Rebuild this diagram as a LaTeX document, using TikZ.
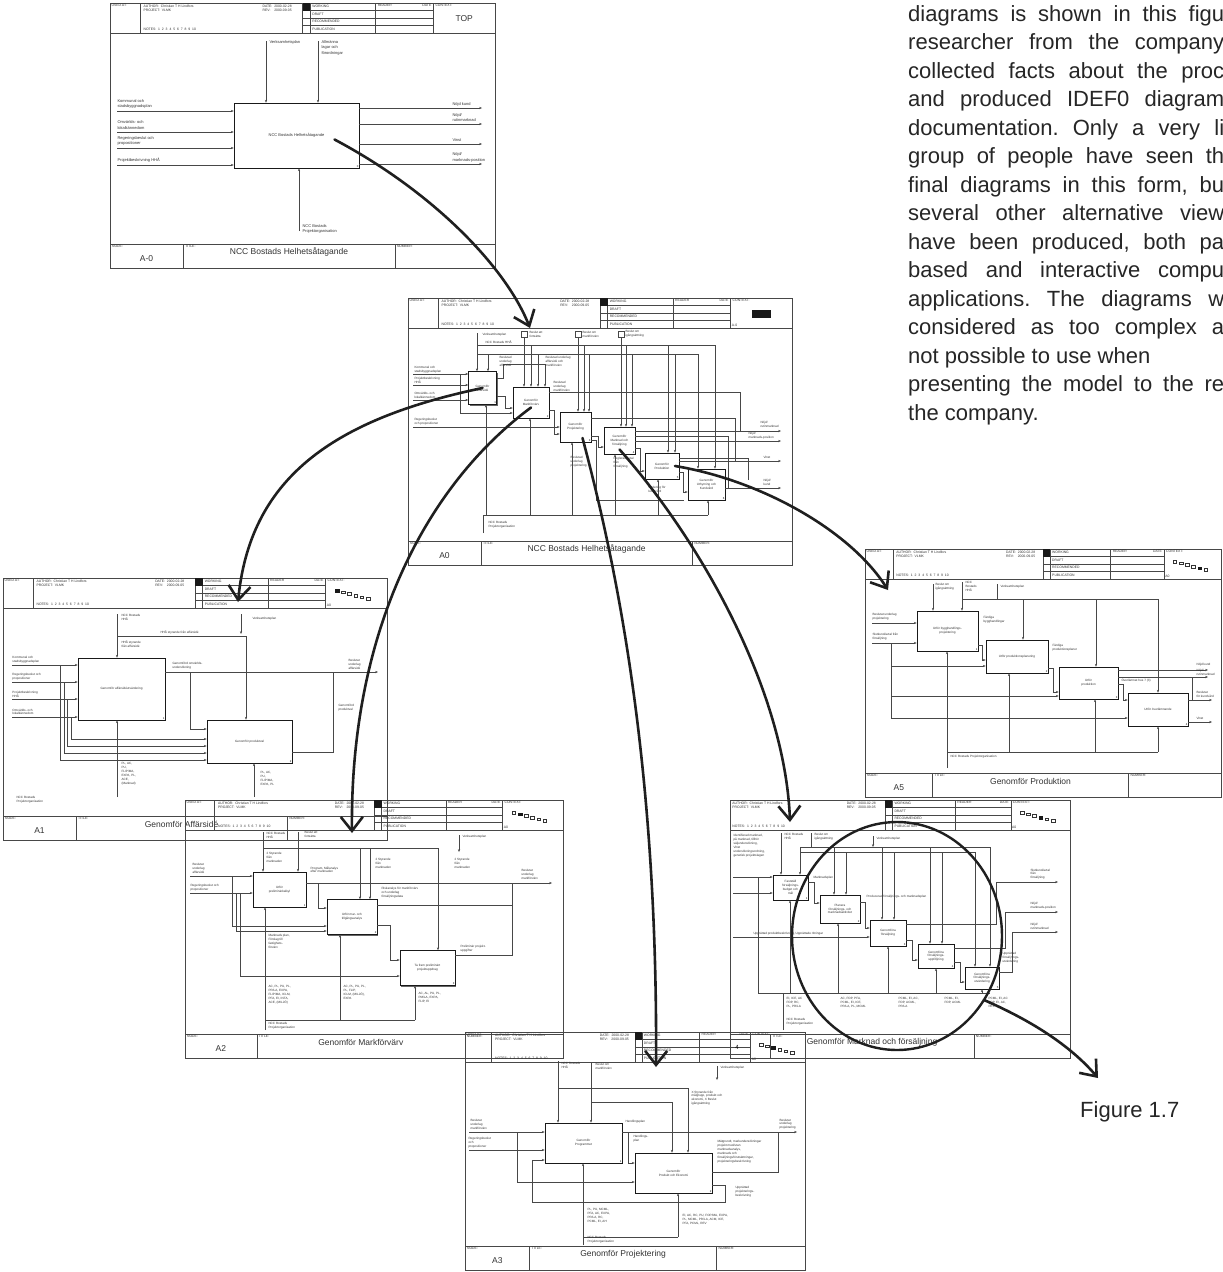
\documentclass[tikz,border=0pt]{standalone}
\usepackage{fontspec}
\setmainfont{Liberation Sans}
\usetikzlibrary{arrows.meta,shadows,calc}
\frenchspacing

\tikzset{
  frm/.style={draw=black!72, line width=0.45pt},
  ln/.style={draw=black!72, line width=0.4pt},
  arr/.style={ln, -{Stealth[length=2.8pt,width=2.2pt]}},
  hd/.style={font=\fontsize{3.4}{4}\selectfont, inner sep=0.4pt, align=left, text=black!80},
  lab/.style={font=\fontsize{3.1}{3.9}\selectfont, inner sep=0.3pt, align=left, text=black!80},
  labA/.style={font=\fontsize{4}{5.5}\selectfont, inner sep=0.3pt, align=left, text=black!80},
  ttl/.style={font=\fontsize{8.5}{9}\selectfont, inner sep=0, text=black!80},
  abox/.style={draw=black!90, line width=0.6pt, fill=white, align=center,
     font=\fontsize{3.1}{3.8}\selectfont, inner sep=0.5pt, text=black!80,
     drop shadow={shadow xshift=1.3pt, shadow yshift=-1.3pt, fill=black!60, opacity=1}},
  aboxA/.style={abox, font=\fontsize{4}{5}\selectfont},
  boxno/.style={font=\fontsize{2.8}{3}\selectfont, inner sep=0.7pt},
  big/.style={line width=2.6pt, draw=black!88, line cap=round,
     -{Straight Barb[length=14pt,width=22pt]}},
  body/.style={font=\fontsize{22}{28.5}\selectfont, inner sep=0, anchor=base west, text=black!85},
}

% IDEF0 form: #1 prefix, #2 x, #3 y, #4 width, #5 height, #6 node, #7 title, #8 context type
\newcommand{\idefsheet}[8]{%
\begin{scope}[shift={(#2,#3)}]
  \draw[frm] (0,0) rectangle (#4,#5);
  \draw[frm] (0,30) -- (#4,30);
  \foreach \fr in {0.078,0.5,0.52,0.69,0.84}{\draw[frm] ({\fr*#4},0) -- ({\fr*#4},30);}
  \foreach \rr in {7.5,15,22.5}{\draw[frm] ({0.5*#4},\rr) -- ({0.84*#4},\rr);}
  \fill[black!90] ({0.5*#4},0) rectangle ({0.52*#4},7.5);
  \node[hd, anchor=north west] (#1-usedat) at (1,1) {USED AT:};
  \node[hd, anchor=north west] (#1-author) at ({0.078*#4+3},1.5) {AUTHOR:\ \ Christian T H Lindfors\\PROJECT:\ \ VLMK};
  \node[hd, anchor=south west] (#1-notes) at ({0.078*#4+3},28.5) {NOTES:\ \ 1\ \ 2\ \ 3\ \ 4\ \ 5\ \ 6\ \ 7\ \ 8\ \ 9\ \ 10};
  \node[hd, anchor=north west] (#1-date) at ({0.395*#4},1.5) {DATE:\ \ 2000-02-28\\REV:\ \ \ \ 2000-09-05};
  \node[hd, anchor=west] (#1-wk) at ({0.52*#4+1.5},3.75) {WORKING};
  \node[hd, anchor=west] (#1-dr) at ({0.52*#4+1.5},11.25) {DRAFT};
  \node[hd, anchor=west] (#1-rc) at ({0.52*#4+1.5},18.75) {RECOMMENDED};
  \node[hd, anchor=west] (#1-pb) at ({0.52*#4+1.5},26.25) {PUBLICATION};
  \node[hd, anchor=north west] (#1-rd) at ({0.69*#4+1.5},1) {READER};
  \node[hd, anchor=north east] (#1-rdt) at ({0.84*#4-1.5},1) {DATE};
  \node[hd, anchor=north west] (#1-ctx) at ({0.84*#4+1.5},1) {CONTEXT:};
  \draw[frm] (0,{#5-24}) -- (#4,{#5-24});
  \draw[frm] ({0.19*#4},{#5-24}) -- ({0.19*#4},#5);
  \draw[frm] ({0.74*#4},{#5-24}) -- ({0.74*#4},#5);
  \node[hd, anchor=north west] (#1-ndl) at (1.5,{#5-23.5}) {NODE:};
  \node[hd, anchor=north west] (#1-tll) at ({0.19*#4+1.5},{#5-23.5}) {TITLE:};
  \node[hd, anchor=north west] (#1-nrl) at ({0.74*#4+1.5},{#5-23.5}) {NUMBER:};
  \node[ttl] (#1-node) at ({0.095*#4},{#5-9}) {#6};
  \node[ttl] (#1-title) at ({0.465*#4},{#5-16}) {#7};
  \ifnum#8=0 \node[ttl] (#1-top) at ({0.92*#4},16) {TOP};\fi
  \ifnum#8=1 \fill[black!90] ({0.895*#4},12) rectangle ({0.945*#4},20);
     \node[hd, anchor=south west] (#1-ctxa) at ({0.842*#4},29) {A-0};\fi
  \ifnum#8>1
    \foreach \sq in {1,...,6}{%
      \ifnum\sq=\numexpr#8-1\relax
        \filldraw[black!90, line width=0.3pt] ({0.865*#4+(\sq-1)*6.2},{11+(\sq-1)*1.7}) rectangle +(3.6,2.8);
      \else
        \draw[black!80, line width=0.3pt] ({0.865*#4+(\sq-1)*6.2},{11+(\sq-1)*1.7}) rectangle +(3.6,2.8);
      \fi}
    \node[hd, anchor=south west] (#1-ctxa) at ({0.842*#4},29) {A0};
  \fi
\end{scope}}

\begin{document}
\begin{tikzpicture}[x=1pt,y=-1pt]
\useasboundingbox (0,0) rectangle (1223,1272);
\fill[white] (0,0) rectangle (1223,1272);
\clip (0,0) rectangle (1223,1272);

% ================= A-0 =================
\idefsheet{s00}{110}{3}{385}{265}{A-0}{NCC Bostads Helhetsåtagande}{0}
\node[aboxA, minimum width=125, minimum height=65] (a00-b) at (296.5,135.5) {NCC Bostads Helhetsåtagande};
\node[boxno, anchor=south east] (a00-bn) at (a00-b.south east) {0};
\coordinate (a00-c1) at (266,41);
\coordinate (a00-c2) at (318,41);
\draw[arr] (a00-c1) -- (a00-c1 |- a00-b.north);
\draw[arr] (a00-c2) -- (a00-c2 |- a00-b.north);
\node[labA, anchor=north west] (a00-c1l) at (269,40) {Verksamhetsplan};
\node[labA, anchor=north west] (a00-c2l) at (321,40) {Allmänna\\lagar och\\förordningar};
\foreach \yy/\nm/\tx in {111/i1/{Kommunal och\\stadsbyggnadsplan},132/i2/{Omvärlds- och\\lokalkännedom},148/i3/{Regeringsbeslut och\\propositioner},165/i4/{Projektbeskrivning HHÅ}}{
  \coordinate (a00-\nm) at (117,\yy);
  \draw[arr] (a00-\nm) -- (a00-\nm -| a00-b.west);
  \node[labA, anchor=south west] (a00-\nm-l) at (117,{\yy-2}) {\tx};
}
\foreach \yy/\nm/\tx in {108/o1/{Nöjd kund},124/o2/{Nöjd/\\rutinmarknad},144/o3/{Vinst},164/o4/{Nöjd/\\marknads-position}}{
  \coordinate (a00-\nm) at (482,\yy);
  \draw[arr] (a00-\nm -| a00-b.east) -- (a00-\nm);
  \node[labA, anchor=south west] (a00-\nm-l) at (452,{\yy-1.5}) {\tx};
}
\coordinate (a00-m) at (299,231);
\draw[arr] (a00-m) -- (a00-m |- a00-b.south);
\node[labA, anchor=north west] (a00-ml) at (302,224) {NCC Bostads\\Projektorganisation};

% ================= A0 =================
\idefsheet{s0}{408}{298}{384}{267}{A0}{NCC Bostads Helhetsåtagande}{1}
\node[abox, minimum width=28, minimum height=33] (a0-b1) at (482.5,388) {Genomför\\affärsidé};
\node[abox, minimum width=36, minimum height=31] (a0-b2) at (531,402.5) {Genomför\\Markförvärv};
\node[abox, minimum width=31, minimum height=30] (a0-b3) at (575.5,427) {Genomför\\Projektering};
\node[abox, minimum width=31, minimum height=27] (a0-b4) at (619.5,440.5) {Genomför\\Marknad och\\försäljning};
\node[abox, minimum width=34, minimum height=26] (a0-b5) at (662,466) {Genomför\\Produktion};
\node[abox, minimum width=37, minimum height=31] (a0-b6) at (706.5,484.5) {Genomför\\Uthyrning och\\Kundvård};
\foreach \bb/\k in {b1/1,b2/2,b3/3,b4/4,b5/5,b6/6}
  \node[boxno, anchor=south east] (a0-\bb-n) at (a0-\bb.south east) {\k};
\node[lab, anchor=west] (a0-vp) at (482,335) {Verksamhetsplan};
\node[lab, anchor=south west] (a0-hha) at (485,344.5) {NCC Bostads HHÅ};
\node[lab, anchor=west] (a0-bf) at (529,334) {Beslut att\\fortsätta};
\node[lab, anchor=west] (a0-bm) at (582,334) {Beslut om\\markförvärv};
\node[lab, anchor=west] (a0-bi) at (625,334) {Beslut om\\igångsättning};
\draw[ln] (521.5,331) rectangle (527,337.5);
\draw[ln] (575.5,331) rectangle (581,337.5);
\draw[ln] (618.5,331) rectangle (624,337.5);
\coordinate (a0-t0) at (477,333);
\draw[arr] (a0-t0) -- (a0-t0 |- a0-b1.north);
\draw[ln] (477,345) -- (715,345);
\draw[ln] (477,354) -- (698,354);
\foreach \xx/\bb in {531/b2,584/b3,626/b4,668/b5,715/b6}
  \draw[arr] (\xx,345) -- (\xx,345 |- a0-\bb.north);
\foreach \xx/\bb in {488/b1,538/b2,589/b3,632/b4,675/b5,698/b6}
  \draw[arr] (\xx,354) -- (\xx,354 |- a0-\bb.north);
\foreach \xx/\bb in {524/b2,578/b3,621/b4}
  \draw[arr] (\xx,338) -- (\xx,338 |- a0-\bb.north);
\foreach \yy/\nm/\tx in {374/i1/{Kommunal och\\stadsbyggnadsplan},385/i2/{Projektbeskrivning\\HHÅ},400/i3/{Omvärlds- och\\lokalkännedom}}{
  \coordinate (a0-\nm) at (413,\yy);
  \draw[arr] (a0-\nm) -- (a0-\nm -| a0-b1.west);
  \node[lab, anchor=south west] (a0-\nm-l) at (414,{\yy-0.8}) {\tx};
}
\coordinate (a0-i4) at (413,427);
\draw[arr] (a0-i4) -- (a0-i4 -| a0-b3.west);
\node[lab, anchor=south west] (a0-i4-l) at (414,426) {Regeringsbeslut\\och propositioner};
\draw[arr] (460,374) |- (a0-b2.west |- 460,413);
\draw[arr] (a0-b1.east |- 0,378) -- (503,378) |- (545,364) -- (545,364 |- a0-b2.north);
\node[lab, anchor=north west] (a0-bua) at (499,356) {Beslutad\\underlag\\affärsidé};
\node[lab, anchor=north west] (a0-bum) at (545,356) {Beslutad underlag\\affärsidé och\\markförvärv};
\node[lab, anchor=north west] (a0-bum2) at (553,381) {Beslutad\\underlag\\markförvärv};
\draw[arr] (a0-b1.east |- 0,396) -| (505,408) -- (a0-b2.west |- 0,408);
\draw[arr] (a0-b2.east |- 0,410) -| (554,434) -- (a0-b3.west |- 0,434);
\draw[arr] (a0-b3.east |- 0,436) -| (598,447) -- (a0-b4.west |- 0,447);
\draw[arr] (a0-b4.east |- 0,448) -| (640,471) -- (a0-b5.west |- 0,471);
\draw[arr] (a0-b5.east |- 0,472) -| (683,492) -- (a0-b6.west |- 0,492);
\draw[ln] (a0-b2.east |- 0,392) -- (740,392) -- (740,431);
\draw[ln] (a0-b3.east |- 0,418) -- (735,418) -- (735,461);
\draw[ln] (a0-b3.east |- 0,440) -- (596,440) -- (596,500) -- (684,500);
\draw[ln] (a0-b4.east |- 0,436) -- (728,436) -- (728,488);
\draw[ln] (a0-b5.east |- 0,458) -- (748,458) -- (748,480);
\foreach \yy/\bb/\nm in {431/b4/o1,441/b4/o2,461/b5/o3,488/b6/o4}{
  \coordinate (a0-\nm) at (781,\yy);
  \draw[arr] (a0-\bb.east |- a0-\nm) -- (a0-\nm);
}
\node[lab, anchor=south west] (a0-o1l) at (760,428) {Nöjd/\\rutinmarknad};
\node[lab, anchor=south west] (a0-o2l) at (748,439.5) {Nöjd/\\marknads-position};
\node[lab, anchor=south west] (a0-o3l) at (763,459) {Vinst};
\node[lab, anchor=south west] (a0-o4l) at (763,486) {Nöjd/\\kund};
\node[lab, anchor=north west] (a0-bup) at (570,456) {Beslutad\\underlag\\projektering};
\node[lab, anchor=north west] (a0-rff) at (613,457) {Reglerad avtal\\från\\försäljning};
\node[lab, anchor=north west] (a0-ufk) at (648,486) {Underlag för\\kundvård};
\coordinate (a0-m) at (483,533);
\draw[ln] (a0-m) -- (483,515) -- (708,515);
\foreach \xx/\bb in {486/b1,530/b2,572/b3,615/b4,658/b5,708/b6}
  \draw[arr] (\xx,515) -- (\xx,515 |- a0-\bb.south);
\node[lab, anchor=west] (a0-ml) at (488,525) {NCC Bostads\\Projektorganisation};

% ================= A1 =================
\idefsheet{s1}{3}{578}{384}{262}{A1}{Genomför Affärsidé}{2}
\node[abox, minimum width=87, minimum height=62] (a1-b1) at (121.5,689) {Genomför affärsidéutvärdering};
\node[abox, minimum width=85, minimum height=43] (a1-b2) at (249.5,741.5) {Genomför produktval};
\node[boxno, anchor=south east] (a1-b1-n) at (a1-b1.south east) {1};
\node[boxno, anchor=south east] (a1-b2-n) at (a1-b2.south east) {2};
\coordinate (a1-c1) at (117,614);
\draw[arr] (a1-c1) -- (a1-c1 |- a1-b1.north);
\node[lab, anchor=north west] (a1-c1l) at (121,614) {NCC Bostads\\HHÅ};
\coordinate (a1-c2) at (241,614);
\draw[arr] (a1-c2) -- (241,634);
\node[lab, anchor=north west] (a1-c2l) at (252,617) {Verksamhetsplan};
\draw[arr] (117,636) -- (246,636) -- (246,636 |- a1-b2.north);
\node[lab, anchor=south west] (a1-hl) at (160,634.5) {HHÅ styrande från affärsidé};
\node[lab, anchor=north west] (a1-hl2) at (121,640) {HHÅ styrande\\från affärsidé};
\foreach \yy/\nm/\tx/\xb/\yb in {665/i1/{Kommunal och\\stadsbyggnadsplan}/60/760,682/i2/{Regeringsbeslut och\\propositioner}/64/753,699/i3/{Projektbeskrivning\\HHÅ}/67/746,717/i4/{Omvärlds- och\\lokalkännedom}/71/739}{
  \coordinate (a1-\nm) at (12,\yy);
  \draw[arr] (a1-\nm) -- (a1-\nm -| a1-b1.west);
  \node[lab, anchor=south west] (a1-\nm-l) at (12,{\yy-1.5}) {\tx};
  \draw[arr] (\xb,\yy) |- (a1-b2.west |- \xb,\yb);
}
\coordinate (a1-o1) at (378,672);
\draw[arr] (a1-b1.east |- a1-o1) -- (a1-o1);
\node[lab, anchor=south west] (a1-o1l) at (348,670) {Beslutat\\underlag\\affärsidé};
\draw[arr] (190,672) |- (a1-b2.west |- 190,729);
\node[lab, anchor=south west] (a1-gl) at (172,670) {Genomförd omvärlds-\\undersökning};
\draw[ln] (a1-b2.east |- 0,752) -- (333,752) -- (333,672);
\node[lab, anchor=west] (a1-gp) at (338,708) {Genomförd\\produktval};
\coordinate (a1-m1) at (117,797);
\draw[arr] (a1-m1) -- (a1-m1 |- a1-b1.south);
\node[lab, anchor=north west] (a1-m1l) at (121,762) {PL, AC,\\PU,\\FLIP/MA,\\EXPA, PL,\\ACE,\\(Marknad)};
\coordinate (a1-m2) at (254,797);
\draw[arr] (a1-m2) -- (a1-m2 |- a1-b2.south);
\node[lab, anchor=north west] (a1-m2l) at (260,771) {PL, AC,\\PU,\\FLIP/MA,\\EXPA, PL};
\node[lab, anchor=west] (a1-ml) at (16,800) {NCC Bostads\\Projektorganisation};

% ================= A5 =================
\idefsheet{s5}{865}{549}{356}{248}{A5}{Genomför  Produktion}{6}
\node[abox, minimum width=61, minimum height=40] (a5-b1) at (947.5,631) {Utför bygghandlings-\\projektering};
\node[abox, minimum width=62, minimum height=33] (a5-b2) at (1017,656.5) {Utför produktionsplanering};
\node[abox, minimum width=59, minimum height=32] (a5-b3) at (1088.5,683) {Utför\\produktion};
\node[abox, minimum width=60, minimum height=33] (a5-b4) at (1158,709.5) {Utför överlämnande};
\foreach \bb/\k in {b1/1,b2/2,b3/3,b4/4}
  \node[boxno, anchor=south east] (a5-\bb-n) at (a5-\bb.south east) {\k};
\coordinate (a5-c1) at (933,584);
\draw[arr] (a5-c1) -- (a5-c1 |- a5-b1.north);
\node[lab, anchor=north west] (a5-c1l) at (935,583) {Beslut om\\igångsättning};
\coordinate (a5-c2) at (962,582);
\draw[arr] (a5-c2) -- (a5-c2 |- a5-b1.north);
\node[lab, anchor=north west] (a5-c2l) at (965,581) {NCC\\Bostads\\HHÅ};
\draw[ln] (962,599) -- (1158,599);
\coordinate (a5-c3) at (997,584);
\draw[ln] (a5-c3) -- (997,599);
\node[lab, anchor=north west] (a5-c3l) at (1000,585) {Verksamhetsplan};
\foreach \xx/\bb in {1023/b2,1096/b3,1158/b4}
  \draw[arr] (\xx,599) -- (\xx,599 |- a5-\bb.north);
\coordinate (a5-i1) at (872,623);
\draw[arr] (a5-i1) -- (a5-i1 -| a5-b1.west);
\node[lab, anchor=south west] (a5-i1l) at (872,621) {Beslutat underlag\\projektering};
\coordinate (a5-i2) at (872,643);
\draw[arr] (a5-i2) -- (a5-i2 -| a5-b1.west);
\node[lab, anchor=south west] (a5-i2l) at (872,641) {Slutkund/avtal från\\försäljning};
\draw[ln] (891,643) -- (891,718);
\draw[arr] (891,666) -- (891,666 -| a5-b2.west);
\draw[arr] (891,696) -- (891,696 -| a5-b3.west);
\draw[arr] (891,718) -- (891,718 -| a5-b4.west);
\draw[arr] (a5-b1.east |- 0,645) -- (982,645) |- (a5-b2.west |- 0,660);
\node[lab, anchor=south west] (a5-o1l) at (983,624) {Färdiga\\bygghandlingar};
\draw[arr] (a5-b2.east |- 0,668) -- (1053,668) |- (a5-b3.west |- 0,692);
\node[lab, anchor=south west] (a5-o2l) at (1052,652) {Färdiga\\produktionsplaner};
\coordinate (a5-o3) at (1208,670);
\coordinate (a5-o4) at (1208,677);
\draw[arr] (a5-b3.east |- a5-o3) -- (a5-o3);
\draw[arr] (a5-b3.east |- a5-o4) -- (a5-o4);
\draw[arr] (a5-b3.east |- 0,684) -- (1123,684) |- (a5-b4.west |- 0,700);
\node[lab, anchor=south west] (a5-oh) at (1121,683) {Överlämnat hus 7 (3)};
\coordinate (a5-o5) at (1212,700);
\coordinate (a5-o6) at (1212,722);
\draw[arr] (a5-b4.east |- a5-o5) -- (a5-o5);
\draw[arr] (a5-b4.east |- a5-o6) -- (a5-o6);
\draw[ln] (1192,677) -- (1192,700);
\node[lab, anchor=south west] (a5-l1) at (1196,667) {Nöjd kund};
\node[lab, anchor=south west] (a5-l2) at (1196,676) {Nöjd/\\rutinmarknad};
\node[lab, anchor=south west] (a5-l3) at (1196,698) {Beslutat\\för kundvård};
\node[lab, anchor=south west] (a5-l4) at (1196,720) {Vinst};
\coordinate (a5-m) at (947,768);
\draw[ln] (a5-m) -- (947,752) -- (1158,752);
\foreach \xx/\bb in {947/b1,1009/b2,1095/b3,1158/b4}
  \draw[arr] (\xx,752) -- (\xx,752 |- a5-\bb.south);
\node[lab, anchor=west] (a5-ml) at (950,757) {NCC Bostads Projektorganisation};

% ================= A2 =================
\idefsheet{s2}{185}{800}{378}{258}{A2}{Genomför Markförvärv}{3}
\node[abox, minimum width=53, minimum height=35] (a2-b1) at (279.5,889.5) {Utför\\preliminärkalkyl};
\node[abox, minimum width=50, minimum height=35] (a2-b2) at (352,917) {Utför mar- och\\tillgångsanalys};
\node[abox, minimum width=55, minimum height=35] (a2-b3) at (427.5,968) {Ta fram preliminärt\\projektuppdrag};
\foreach \bb/\k in {b1/1,b2/2,b3/3}
  \node[boxno, anchor=south east] (a2-\bb-n) at (a2-\bb.south east) {\k};
\coordinate (a2-c1) at (263,832);
\draw[arr] (a2-c1) -- (a2-c1 |- a2-b1.north);
\node[lab, anchor=north west] (a2-c1l) at (266,832) {NCC Bostads\\HHÅ};
\coordinate (a2-c2) at (298,832);
\draw[arr] (a2-c2) -- (a2-c2 |- a2-b1.north);
\node[lab, anchor=north west] (a2-c2l) at (304,831) {Beslut att\\fortsätta};
\draw[ln] (263,848) -- (438,848);
\draw[arr] (360,848) -- (360,848 |- a2-b2.north);
\draw[arr] (370,848) -- (370,848 |- a2-b2.north);
\draw[arr] (438,848) -- (438,848 |- a2-b3.north);
\coordinate (a2-c3) at (459,835);
\draw[arr] (a2-c3) -- (459,852);
\node[lab, anchor=north west] (a2-c3l) at (462,835) {Verksamhetsplan};
\node[lab, anchor=north west] (a2-s1) at (266,852) {2 Styrande\\från\\marknaden};
\node[lab, anchor=north west] (a2-s2) at (375,858) {2 Styrande\\från\\marknaden};
\node[lab, anchor=north west] (a2-s3) at (454,858) {2 Styrande\\från\\marknaden};
\node[lab, anchor=north west] (a2-pm) at (310,866) {Program, Målanalys\\efter marknaden};
\node[lab, anchor=north west] (a2-ra) at (381,887) {Riskanalys för markförvärv\\och underlag\\försäljningsdata};
\coordinate (a2-i1) at (190,876);
\draw[arr] (a2-i1) -- (a2-i1 -| a2-b1.west);
\node[lab, anchor=south west] (a2-i1l) at (192,874) {Beslutat\\underlag\\affärsidé};
\coordinate (a2-i2) at (190,893);
\draw[arr] (a2-i2) -- (a2-i2 -| a2-b1.west);
\node[lab, anchor=south west] (a2-i2l) at (190,891.5) {Regeringsbeslut och\\propositioner};
\draw[arr] (232,876) |- (a2-b2.west |- 232,926);
\draw[arr] (236,893) |- (a2-b2.west |- 236,931);
\draw[arr] (240,893) |- (a2-b3.west |- 240,976);
\coordinate (a2-o1) at (552,883);
\draw[arr] (a2-b1.east |- a2-o1) -- (a2-o1);
\node[lab, anchor=south west] (a2-o1l) at (521,880) {Beslutat\\underlag\\markförvärv};
\draw[arr] (318,883) |- (a2-b2.west |- 318,908);
\draw[arr] (a2-b2.east |- 0,925) -| (390,960) -- (a2-b3.west |- 0,960);
\draw[ln] (a2-b2.east |- 0,905) -- (512,905);
\draw[ln] (a2-b3.east |- 0,955) -- (512,955) -- (512,883);
\node[lab, anchor=south west] (a2-pp) at (460,953) {Preliminär projekt-\\uppgifter};
\node[lab, anchor=north west] (a2-mk) at (268,934) {Marknads plan,\\Förslag till\\fastighets-\\förvärv};
\coordinate (a2-m) at (265,1030);
\draw[ln] (a2-m) -- (265,1020) -- (415,1020);
\draw[arr] (265,1020) -- (265,1020 |- a2-b1.south);
\draw[arr] (340,1020) -- (340,1020 |- a2-b2.south);
\draw[arr] (415,1020) -- (415,1020 |- a2-b3.south);
\node[lab, anchor=north west] (a2-m1l) at (268,985) {AC, PL, PU, PL,\\PR/LA, EXPA,\\FLIP/MA, ICLM,\\PFA, EI, INTA,\\ACE, (MILJÖ)};
\node[lab, anchor=north west] (a2-m2l) at (343,985) {AC, PL, PU, PL,\\PL, FLIP,\\ICLM, (MILJÖ),\\EXPA};
\node[lab, anchor=north west] (a2-m3l) at (418,992) {AC, AL, PU, PL,\\PM/LA, EXPA,\\FLIP, EI};
\node[lab, anchor=north west] (a2-ml) at (268,1022) {NCC Bostads\\Projektorganisation};

% ================= A4 (Marknad och försäljning) =================
\begin{scope}
\clip (730,790) rectangle (1085,1065);
\idefsheet{s4}{700}{800}{370}{258}{}{Genomför Marknad och försäljning}{5}
\node[abox, minimum width=35, minimum height=25] (a4-b1) at (790.5,887.5) {Fastställ\\försäljnings-\\budget och\\mål};
\node[abox, minimum width=40, minimum height=28] (a4-b2) at (840,909) {Planera\\försäljnings- och\\marknadsaktivitet};
\node[abox, minimum width=36, minimum height=26] (a4-b3) at (888,933) {Genomföra\\försäljning};
\node[abox, minimum width=36, minimum height=24] (a4-b4) at (936,956) {Genomföra\\försäljnings-\\uppföljning};
\node[abox, minimum width=34, minimum height=22] (a4-b5) at (982,978) {Genomföra\\försäljnings-\\utvärdering};
\foreach \bb/\k in {b1/1,b2/2,b3/3,b4/4,b5/5}
  \node[boxno, anchor=south east] (a4-\bb-n) at (a4-\bb.south east) {\k};
\node[lab, anchor=north west] (a4-tl) at (733,834) {Identifierad marknad,\\på marknad, tillhör\\säljundersökning,\\Vinst\\undersökningsordning,\\genetisk projektslagen};
\coordinate (a4-c1) at (781,833);
\draw[arr] (a4-c1) -- (a4-c1 |- a4-b1.north);
\node[lab, anchor=north west] (a4-c1l) at (784,833) {NCC Bostads\\HHÅ};
\coordinate (a4-c2) at (811,833);
\draw[ln] (a4-c2) -- (811,847);
\node[lab, anchor=north west] (a4-c2l) at (814,833) {Beslut om\\igångsättning};
\coordinate (a4-c3) at (873,836);
\draw[arr] (a4-c3) -- (873,847);
\node[lab, anchor=west] (a4-c3l) at (876,839) {Verksamhetsplan};
\draw[ln] (800,847) -- (990,847);
\draw[ln] (800,852) -- (975,852);
\draw[arr] (800,847) -- (800,847 |- a4-b1.north);
\foreach \xx/\yy/\bb in {834/847/b2,846/852/b2,882/847/b3,894/852/b3,930/847/b4,942/852/b4,975/852/b5,990/847/b5}
  \draw[arr] (\xx,\yy) -- (\xx,\yy |- a4-\bb.north);
\coordinate (a4-i1) at (733,877);
\draw[arr] (a4-i1) -- (a4-i1 -| a4-b1.west);
\coordinate (a4-i2) at (733,893);
\draw[arr] (a4-i2) -- (a4-i2 -| a4-b1.west);
\coordinate (a4-i3) at (733,937);
\draw[arr] (a4-i3) -- (a4-i3 -| a4-b3.west);
\node[lab, anchor=south west] (a4-i3l) at (753,935.5) {Upprättad produktbeskrivning, Upprättade ritningar};
\draw[ln] (758,877) -- (758,993);
\draw[arr] (a4-b1.east |- 0,882) -- (814,882) |- (a4-b2.west |- 0,903);
\node[lab, anchor=south west] (a4-mp) at (813,880) {Marknadsplan};
\draw[arr] (a4-b2.east |- 0,902) -- (865,902) |- (a4-b3.west |- 0,928);
\node[lab, anchor=south west] (a4-pf) at (866,899) {Producerad försäljnings- och marknadsplan};
\draw[arr] (a4-b3.east |- 0,940) -- (912,940) |- (a4-b4.west |- 0,960);
\draw[arr] (a4-b4.east |- 0,962) -- (960,962) |- (a4-b5.west |- 0,982);
\coordinate (a4-o1) at (1058,882);
\draw[arr] (a4-b3.east |- 0,924) -- (996,924) |- (a4-o1);
\node[lab, anchor=south west] (a4-o1l) at (1030,880) {Slutkund/avtal\\från\\försäljning};
\coordinate (a4-o2) at (1058,912);
\draw[arr] (a4-b4.east |- 0,948) -- (1005,948) |- (a4-o2);
\node[lab, anchor=south west] (a4-o2l) at (1030,910) {Nöjd/\\marknads-position};
\coordinate (a4-o3) at (1058,932);
\draw[arr] (a4-b5.east |- 0,972) -- (1012,972) |- (a4-o3);
\node[lab, anchor=south west] (a4-o3l) at (1030,930) {Nöjd/\\rutinmarknad};
\node[lab, anchor=north west] (a4-ufl) at (1002,952) {Upprättad\\försäljnings-\\utvärdering};
\coordinate (a4-m) at (783,1030);
\draw[ln] (758,993) -- (990,993);
\draw[ln] (a4-m) -- (783,993);
\foreach \xx/\bb in {790/b1,838/b2,888/b3,936/b4,982/b5}
  \draw[arr] (\xx,993) -- (\xx,993 |- a4-\bb.south);
\node[lab, anchor=north west] (a4-m1) at (786,997) {EI, ICE, AC\\FOP, RC,\\PL, PR/LA};
\node[lab, anchor=north west] (a4-m2) at (840,997) {AC, FOP, PFA,\\PCML, EI, ICE,\\PR/LA, PL, MCML};
\node[lab, anchor=north west] (a4-m3) at (898,997) {PCML, EI, AC,\\FOP, ACML,\\PR/LA};
\node[lab, anchor=north west] (a4-m4) at (944,997) {PCML, EI,\\FOP, ACML};
\node[lab, anchor=north west] (a4-m5) at (988,997) {PCML, EI, AC\\FOP, EI, AC,\\REV};
\node[lab, anchor=north west] (a4-ml) at (786,1018) {NCC Bostads\\Projektorganisation};
\end{scope}
\draw[frm] (730,800) -- (730,1058);

% ================= A3 =================
\idefsheet{s3}{465}{1032}{340}{238}{A3}{Genomför Projektering}{4}
\node[font=\fontsize{6}{6}\selectfont, inner sep=0] (s3-four) at (737,1047) {4};
\node[abox, minimum width=77, minimum height=40] (a3-b1) at (583.5,1143) {Genomför\\Programmet};
\node[abox, minimum width=77, minimum height=40] (a3-b2) at (673.5,1173) {Genomför\\Produkt och Ekonomi};
\node[boxno, anchor=south east] (a3-b1-n) at (a3-b1.south east) {1};
\node[boxno, anchor=south east] (a3-b2-n) at (a3-b2.south east) {2};
\coordinate (a3-c1) at (558,1061);
\draw[arr] (a3-c1) -- (a3-c1 |- a3-b1.north);
\node[lab, anchor=north west] (a3-c1l) at (561,1062) {NCC Bostads\\HHÅ};
\coordinate (a3-c2) at (591,1063);
\draw[arr] (a3-c2) -- (a3-c2 |- a3-b1.north);
\node[lab, anchor=north west] (a3-c2l) at (595,1063) {Beslut om\\markförvärv};
\coordinate (a3-c3) at (717,1066);
\draw[arr] (a3-c3) -- (717,1080);
\node[lab, anchor=north west] (a3-c3l) at (720,1066) {Verksamhetsplan};
\draw[ln] (558,1088) -- (688,1088);
\draw[arr] (688,1088) -- (688,1088 |- a3-b2.north);
\draw[ln] (591,1102) -- (672,1102);
\draw[arr] (672,1102) -- (672,1102 |- a3-b2.north);
\node[lab, anchor=north west] (a3-xs) at (691,1090) {X Styrande från\\målgrupp, produkt och\\ekonomi, X Beslut\\igångsättning};
\node[lab, anchor=south west] (a3-hp) at (625,1124) {Handlingsplan};
\node[lab, anchor=north west] (a3-hp2) at (633,1135) {Handlings-\\plan};
\coordinate (a3-i1) at (469,1132);
\draw[arr] (a3-i1) -- (a3-i1 -| a3-b1.west);
\node[lab, anchor=south west] (a3-i1l) at (470,1130) {Beslutat\\underlag\\markförvärv};
\coordinate (a3-i2) at (469,1150);
\draw[arr] (a3-i2) -- (a3-i2 -| a3-b1.west);
\node[lab, anchor=south west] (a3-i2l) at (468,1148.5) {Regeringsbeslut\\och\\propositioner};
\coordinate (a3-o1) at (797,1132);
\draw[arr] (a3-b1.east |- a3-o1) -- (a3-o1);
\node[lab, anchor=south west] (a3-o1l) at (779,1130) {Beslutat\\underlag\\projektering};
\draw[arr] (517,1132) |- (a3-b2.west |- 517,1182);
\draw[arr] (628,1132) |- (a3-b2.west |- 628,1163);
\draw[arr] (a3-b2.east |- 0,1185) -- (725,1185) |- (532,1202) |- (a3-b1.west |- 532,1160);
\node[lab, anchor=north west] (a3-up) at (735,1186) {Upprättad\\projekterings-\\beskrivning};
\draw[ln] (a3-b2.east |- 0,1172) -- (778,1172) -- (778,1132);
\node[lab, anchor=north west] (a3-mg) at (717,1140) {Mätgrundt, markundersökningar\\projekt med/utan\\marknadsanalys,\\marknads och\\försäljningsförutsättningar,\\projekteringsbeskrivning};
\coordinate (a3-m) at (583,1245);
\draw[ln] (a3-m) -- (583,1237) -- (678,1237);
\draw[arr] (583,1237) -- (583,1237 |- a3-b1.south);
\draw[arr] (678,1237) -- (678,1237 |- a3-b2.south);
\node[lab, anchor=north west] (a3-m1l) at (587,1208) {PL, PU, MCML,\\PFA, AC, EXPA,\\PR/LA, RC,\\PCML, EI, AH};
\node[lab, anchor=north west] (a3-m2l) at (682,1214) {EI, AC, RC, PU, FOP/MA, EXPA,\\PL, MCML, PR/LA, ACM, ICE,\\PFA, PCML, REV};
\node[lab, anchor=north west] (a3-ml) at (587,1236) {NCC Bostads\\Projektorganisation};

% ================= thick hand-drawn arrows =================
\coordinate (t1) at (530,328);
\coordinate (t2) at (238,602);
\coordinate (t3) at (352,833);
\coordinate (t4) at (656,1067);
\coordinate (t5) at (790,822);
\coordinate (t6) at (888,590);
\draw[big] ($(a00-b.center)+(38,4)$) .. controls (430,190) and (505,265) .. (t1);
\draw[big] (a0-b1.center) .. controls (330,420) and (250,480) .. (t2);
\draw[big] ($(a0-b2.center)+(0,5)$) .. controls (420,490) and (350,640) .. (t3);
\draw[big] ($(a0-b3.center)+(7,11)$) .. controls (615,560) and (658,760) .. (t4);
\draw[big] ($(a0-b4.center)+(0,9)$) .. controls (700,540) and (785,690) .. (t5);
\draw[big] ($(a0-b5.center)+(13,0)$) .. controls (760,480) and (850,530) .. (t6);
\draw[line width=2.4pt, draw=black!88] (897,936) ellipse [x radius=105, y radius=114];
\coordinate (t7) at (1098,1078);
\draw[big] (984,1000) .. controls (1030,1020) and (1070,1045) .. (t7);

% ================= text =================
\node[body] (tx1) at (908,21) {\makebox[316pt][s]{diagrams is shown in this figu}};
\node[body] (tx2) at (908,49.5) {\makebox[316pt][s]{researcher from the company}};
\node[body] (tx3) at (908,78) {\makebox[316pt][s]{collected facts about the proc}};
\node[body] (tx4) at (908,106.5) {\makebox[316pt][s]{and produced IDEF0 diagram}};
\node[body] (tx5) at (908,135) {\makebox[316pt][s]{documentation. Only a very li}};
\node[body] (tx6) at (908,163.5) {\makebox[316pt][s]{group of people have seen th}};
\node[body] (tx7) at (908,192) {\makebox[316pt][s]{final diagrams in this form, bu}};
\node[body] (tx8) at (908,220.5) {\makebox[316pt][s]{several other alternative view}};
\node[body] (tx9) at (908,249) {\makebox[316pt][s]{have been produced, both pa}};
\node[body] (tx10) at (908,277.5) {\makebox[316pt][s]{based and interactive compu}};
\node[body] (tx11) at (908,306) {\makebox[316pt][s]{applications. The diagrams w}};
\node[body] (tx12) at (908,334.5) {\makebox[316pt][s]{considered as too complex a}};
\node[body] (tx13) at (908,363) {not possible to use when};
\node[body] (tx14) at (908,391.5) {\makebox[316pt][s]{presenting the model to the re}};
\node[body] (tx15) at (908,420) {the company.};
\node[body] (fig) at (1080,1117) {Figure 1.7};
\end{tikzpicture}
\end{document}
